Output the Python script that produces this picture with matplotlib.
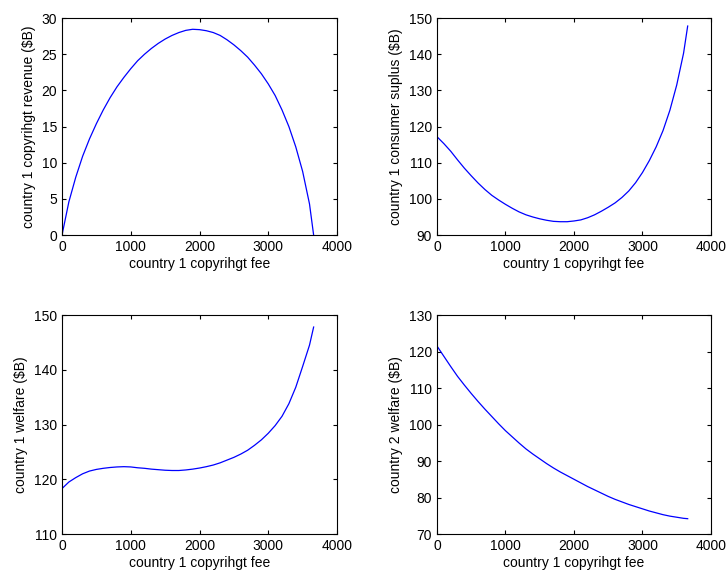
import matplotlib
matplotlib.use('Agg')
import matplotlib.pyplot as plt

# country 1 copyright fee (x axis, shared by all four panels)
fee = [0, 100, 200, 300, 400, 500, 600, 700, 800, 900,
       1000, 1100, 1200, 1300, 1400, 1500, 1600, 1700, 1800, 1900,
       2000, 2100, 2200, 2300, 2400, 2500, 2600, 2700, 2800, 2900,
       3000, 3100, 3200, 3300, 3400, 3500, 3600, 3660]

revenue_1 = [0.0, 4.6, 8.0, 10.9, 13.3, 15.4, 17.3, 19.0, 20.5, 21.8,
             23.0, 24.1, 25.0, 25.8, 26.5, 27.1, 27.6, 28.0, 28.3, 28.45,
             28.4, 28.25, 28.0, 27.6, 27.0, 26.3, 25.5, 24.6, 23.5, 22.3,
             20.9, 19.3, 17.3, 15.0, 12.2, 8.8, 4.3, 0.0]

consumer_surplus_1 = [117.2, 115.3, 113.2, 110.8, 108.5, 106.4, 104.4, 102.6, 101.0, 99.7,
                      98.5, 97.4, 96.4, 95.6, 95.0, 94.5, 94.1, 93.8, 93.7, 93.7,
                      93.9, 94.2, 94.8, 95.6, 96.6, 97.7, 98.9, 100.4, 102.2, 104.5,
                      107.3, 110.6, 114.4, 118.9, 124.5, 131.5, 140.3, 147.8]

welfare_1 = [118.3, 119.5, 120.3, 121.0, 121.5, 121.8, 122.0, 122.15, 122.25, 122.3,
             122.25, 122.1, 122.0, 121.85, 121.75, 121.65, 121.6, 121.6, 121.7, 121.85,
             122.05, 122.3, 122.6, 123.0, 123.5, 124.0, 124.6, 125.3, 126.2, 127.2,
             128.4, 129.8, 131.5, 133.8, 136.8, 140.6, 144.5, 147.8]

welfare_2 = [121.5, 118.7, 115.9, 113.2, 110.8, 108.5, 106.3, 104.2, 102.2, 100.2,
             98.3, 96.6, 94.9, 93.3, 91.9, 90.6, 89.3, 88.1, 87.0, 86.0,
             85.0, 84.0, 83.0, 82.1, 81.2, 80.3, 79.5, 78.8, 78.1, 77.5,
             76.9, 76.3, 75.8, 75.3, 74.9, 74.6, 74.3, 74.2]

panels = [
    (revenue_1, 'country 1 copyrihgt revenue ($B)', (0, 30), [0, 5, 10, 15, 20, 25, 30]),
    (consumer_surplus_1, 'country 1 consumer suplus ($B)', (90, 150), [90, 100, 110, 120, 130, 140, 150]),
    (welfare_1, 'country 1 welfare ($B)', (110, 150), [110, 120, 130, 140, 150]),
    (welfare_2, 'country 2 welfare ($B)', (70, 130), [70, 80, 90, 100, 110, 120, 130]),
]

# axes rectangles in figure fractions
positions = [
    [0.0854, 0.589, 0.3788, 0.3794],
    [0.6019, 0.589, 0.3774, 0.3794],
    [0.0854, 0.0664, 0.3788, 0.3829],
    [0.6019, 0.0664, 0.3774, 0.3829],
]

plt.rcParams['font.family'] = ['Liberation Sans', 'DejaVu Sans']
plt.rcParams['font.size'] = 10

fig = plt.figure(figsize=(7.26, 5.72), dpi=100)
for (values, ylabel, ylim, yticks), pos in zip(panels, positions):
    ax = fig.add_axes(pos)
    ax.plot(fee, values, color='blue', linewidth=0.9)
    ax.set_xlim(0, 4000)
    ax.set_ylim(*ylim)
    ax.set_xticks([0, 1000, 2000, 3000, 4000])
    ax.set_yticks(yticks)
    ax.set_xlabel('country 1 copyrihgt fee', labelpad=2.5)
    ax.set_ylabel(ylabel, labelpad=4)
    ax.tick_params(direction='in', length=3, width=0.8, top=True, right=True, pad=3.5)
    for spine in ax.spines.values():
        spine.set_linewidth(0.8)

fig.savefig('out.png', dpi=100)
